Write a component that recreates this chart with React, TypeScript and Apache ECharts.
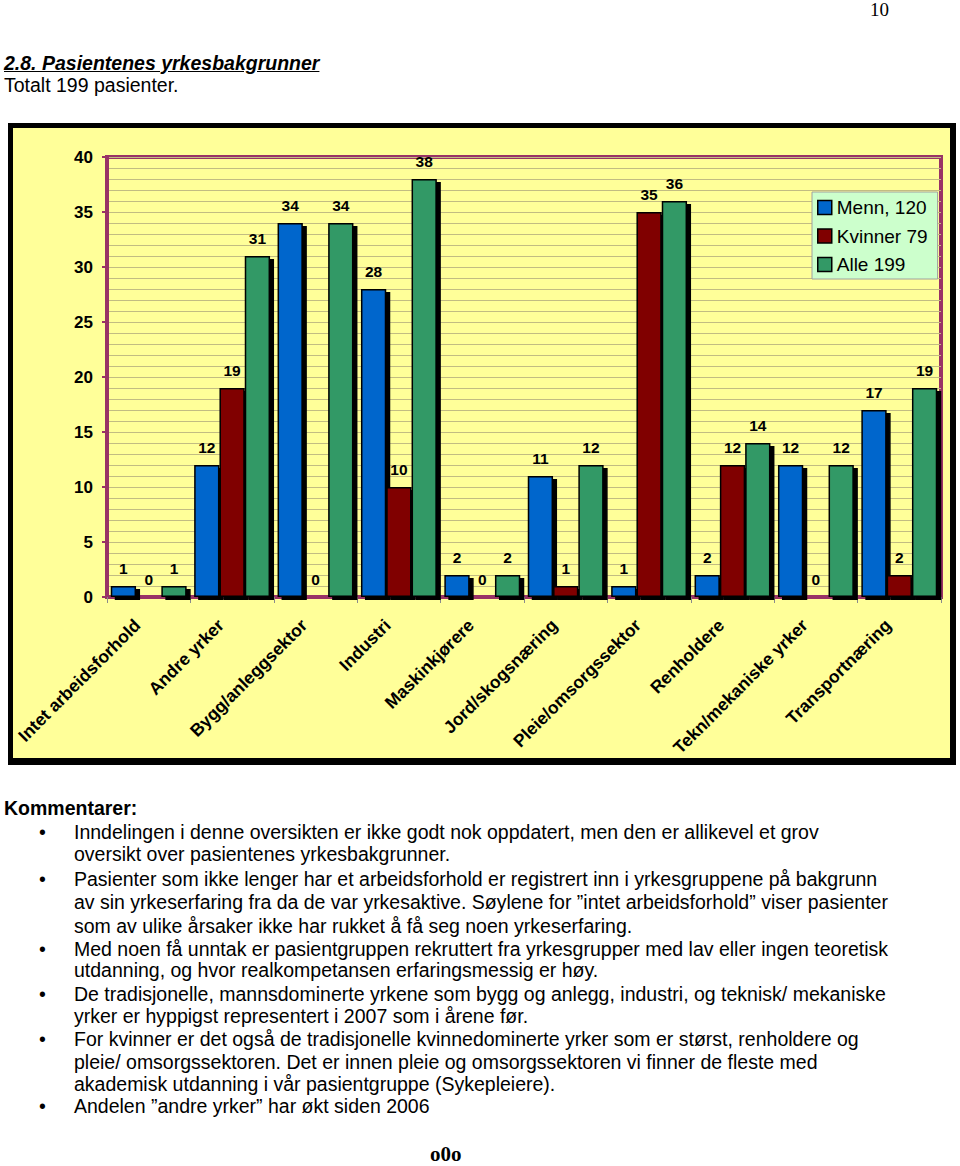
import React, { useEffect, useRef } from "react";
import * as echarts from "echarts";

const categories = [
  "Intet arbeidsforhold",
  "Andre yrker",
  "Bygg/anleggsektor",
  "Industri",
  "Maskinkjørere",
  "Jord/skogsnæring",
  "Pleie/omsorgssektor",
  "Renholdere",
  "Tekn/mekaniske yrker",
  "Transportnæring",
];
const menn = [1, 12, 34, 28, 2, 11, 1, 2, 12, 17];
const kvinner = [0, 19, 0, 10, 0, 1, 35, 12, 0, 2];
const alle = [1, 31, 34, 38, 2, 12, 36, 14, 12, 19];
const seriesNames = ["Menn, 120", "Kvinner 79", "Alle 199"];
const seriesColors = ["#0066CC", "#800000", "#339966"];
const yMin = 0;
const yMax = 40;
const yStep = 5;

const SANS = '"Liberation Sans", Arial, sans-serif';
const SERIF = '"Liberation Serif", "Times New Roman", serif';

const bodyLines: { text: string; y: number; bullet?: boolean }[] = [
  { text: "Inndelingen i denne oversikten er ikke godt nok oppdatert, men den er allikevel et grov", y: 833, bullet: true },
  { text: "oversikt over pasientenes yrkesbakgrunner.", y: 855 },
  { text: "Pasienter som ikke lenger har et arbeidsforhold er registrert inn i yrkesgruppene på bakgrunn", y: 880, bullet: true },
  { text: "av sin yrkeserfaring fra da de var yrkesaktive. Søylene for ”intet arbeidsforhold” viser pasienter", y: 903 },
  { text: "som av ulike årsaker ikke har rukket å få seg noen yrkeserfaring.", y: 927 },
  { text: "Med noen få unntak er pasientgruppen rekruttert fra yrkesgrupper med lav eller ingen teoretisk", y: 950, bullet: true },
  { text: "utdanning, og hvor realkompetansen erfaringsmessig er høy.", y: 971 },
  { text: "De tradisjonelle, mannsdominerte yrkene som bygg og anlegg, industri, og teknisk/ mekaniske", y: 995, bullet: true },
  { text: "yrker er hyppigst representert i 2007 som i årene før.", y: 1017 },
  { text: "For kvinner er det også de tradisjonelle kvinnedominerte yrker som er størst, renholdere og", y: 1040, bullet: true },
  { text: "pleie/ omsorgssektoren. Det er innen pleie og omsorgssektoren vi finner de fleste med", y: 1063 },
  { text: "akademisk utdanning i vår pasientgruppe (Sykepleiere).", y: 1085 },
  { text: "Andelen ”andre yrker” har økt siden 2006", y: 1107, bullet: true },
];

function Chart() {
  const ref = useRef<HTMLDivElement | null>(null);
  useEffect(() => {
    if (!ref.current) return;
    const chart = echarts.init(ref.current, undefined, { renderer: "svg" });
    const makeData = (arr: number[]) =>
      arr.map((v) =>
        v === 0
          ? { value: 0, itemStyle: { borderWidth: 0, shadowColor: "rgba(0,0,0,0)" } }
          : v
      );
    const all = [menn, kvinner, alle];
    chart.setOption({
      animation: false,
      backgroundColor: "#FFFF99",
      grid: {
        left: 94,
        top: 29,
        width: 834,
        height: 440,
        containLabel: false,
        outerBoundsMode: "none",
        show: true,
        borderColor: "#993366",
        borderWidth: 4,
        backgroundColor: "transparent",
      },
      legend: {
        data: seriesNames,
        orient: "vertical",
        left: 799,
        top: 64,
        itemWidth: 14,
        itemHeight: 14,
        itemGap: 9.5,
        padding: [6, 10, 5, 5],
        backgroundColor: "#CCFFCC",
        borderColor: "#A0A0A0",
        borderWidth: 1,
        icon: "rect",
        textStyle: { fontSize: 19, lineHeight: 19, color: "#000", fontFamily: SANS },
        itemStyle: {
          borderColor: "#000",
          borderWidth: 1.5,
          shadowColor: "rgba(0,0,0,0)",
          shadowOffsetX: 0,
          shadowOffsetY: 0,
        },
      },
      xAxis: {
        type: "category",
        data: categories,
        axisLine: { show: true, lineStyle: { color: "#993366", width: 3 } },
        axisTick: { show: true, length: 6, lineStyle: { color: "#8A8A8A", width: 1 } },
        axisLabel: {
          rotate: 45,
          margin: 14,
          interval: 0,
          padding: [0, 16, 0, 0],
          fontSize: 17.5,
          fontWeight: "bold",
          color: "#000",
          fontFamily: SANS,
        },
        splitLine: { show: false },
      },
      yAxis: {
        type: "value",
        min: yMin,
        max: yMax,
        interval: yStep,
        axisLine: { show: true, lineStyle: { color: "#993366", width: 4 } },
        axisTick: { show: true, length: 5, lineStyle: { color: "#993366", width: 2 } },
        axisLabel: {
          margin: 14,
          fontSize: 17,
          fontWeight: "bold",
          color: "#000",
          fontFamily: SANS,
        },
        splitLine: { show: true, lineStyle: { color: "#C2BC82", width: 1 } },
        minorTick: { show: false, splitNumber: 5 },
        minorSplitLine: { show: true, lineStyle: { color: "#C2BC82", width: 1 } },
      },
      series: all.map((arr, i) => ({
        name: seriesNames[i],
        type: "bar",
        data: makeData(arr),
        barGap: "0%",
        barCategoryGap: "9%",
        itemStyle: {
          color: seriesColors[i],
          borderColor: "#000",
          borderWidth: 1.5,
          shadowColor: "#000",
          shadowBlur: 0,
          shadowOffsetX: 4,
          shadowOffsetY: 3,
        },
        label: {
          show: true,
          position: "top",
          distance: 10,
          fontSize: 15.5,
          fontWeight: "bold",
          color: "#000",
          fontFamily: SANS,
        },
      })),
    });
    return () => chart.dispose();
  }, []);
  return <div ref={ref} style={{ width: 937, height: 630 }} />;
}

export default function App() {
  const abs = (left: number, top: number): React.CSSProperties => ({
    position: "absolute",
    left,
    top,
    whiteSpace: "nowrap",
    margin: 0,
  });
  const bodyFont = 19.5;
  return (
    <div style={{ position: "absolute", left: 0, top: 0, width: 960, height: 1166, background: "#fff", overflow: "hidden" }}>
      <div style={{ ...abs(870, 0), fontFamily: SERIF, fontSize: 19, lineHeight: "19px", color: "#000" }}>10</div>
      <div
        style={{
          ...abs(4, 53.5),
          fontFamily: SANS,
          fontSize: 19.5,
          lineHeight: "19.5px",
          fontWeight: "bold",
          fontStyle: "italic",
          textDecoration: "underline",
          color: "#000",
        }}
      >
        2.8. Pasientenes yrkesbakgrunner
      </div>
      <div style={{ ...abs(4, 75.5), fontFamily: SANS, fontSize: 19.5, lineHeight: "19.5px", color: "#000" }}>
        Totalt 199 pasienter.
      </div>
      <div
        style={{
          position: "absolute",
          left: 8,
          top: 123,
          borderStyle: "solid",
          borderColor: "#000",
          borderWidth: "5px 6px 7px 5px",
          width: 937,
          height: 630,
        }}
      >
        <Chart />
      </div>
      <div style={{ ...abs(4, 798.5), fontFamily: SANS, fontSize: 19.5, lineHeight: "19.5px", fontWeight: "bold", color: "#000" }}>
        Kommentarer:
      </div>
      {bodyLines.map((l, i) => (
        <React.Fragment key={i}>
          {l.bullet ? (
            <div style={{ ...abs(39, l.y - 10.5), fontFamily: SANS, fontSize: bodyFont, lineHeight: `${bodyFont}px`, color: "#000" }}>•</div>
          ) : null}
          <div style={{ ...abs(74, l.y - 10.5), fontFamily: SANS, fontSize: bodyFont, lineHeight: `${bodyFont}px`, color: "#000" }}>{l.text}</div>
        </React.Fragment>
      ))}
      <div style={{ ...abs(430, 1144.4), fontFamily: SERIF, fontSize: 21, lineHeight: "21px", fontWeight: "bold", color: "#000" }}>
        o0o
      </div>
    </div>
  );
}
